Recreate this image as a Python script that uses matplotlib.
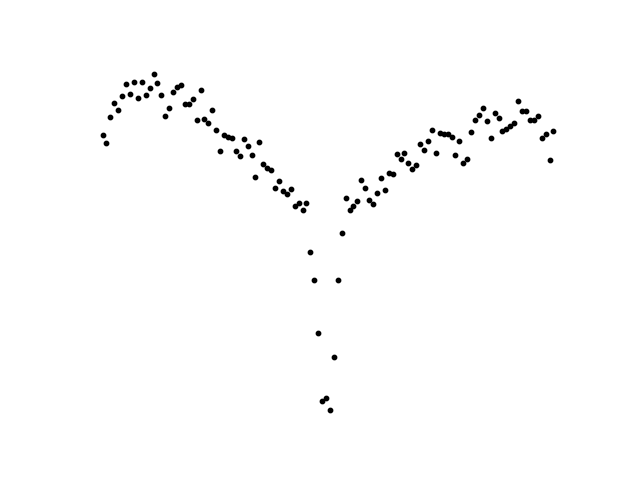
import matplotlib
matplotlib.use("Agg")
import matplotlib.pyplot as plt
import numpy as np

# signal level per sample (sample index on x)
signal = [
    344.7, 337.0, 362.7, 376.7, 369.7, 383.7, 395.7, 385.7, 397.7, 381.7,
    397.7, 384.7, 391.7, 405.7, 396.7, 384.7, 363.7, 371.7, 387.7, 392.7,
    394.7, 375.7, 375.7, 380.7, 359.7, 389.7, 360.7, 356.7, 369.7, 349.7,
    328.7, 345.3, 343.0, 341.7, 328.7, 323.7, 340.7, 333.7, 324.7, 302.7,
    337.7, 315.7, 311.7, 309.7, 291.7, 298.7, 288.7, 286.3, 290.7, 273.7,
    277.3, 270.0, 276.7, 227.7, 199.7, 146.7, 78.7, 81.7, 69.7, 122.7,
    199.7, 246.7, 281.7, 269.7, 273.7, 278.7, 299.7, 291.7, 279.7, 275.7,
    286.7, 301.7, 289.7, 306.7, 305.7, 325.7, 320.7, 326.7, 316.7, 310.7,
    314.7, 335.7, 329.7, 338.7, 349.7, 326.7, 346.7, 345.7, 345.7, 342.7,
    324.7, 338.7, 316.7, 320.7, 347.7, 359.7, 364.7, 371.7, 358.7, 341.7,
    366.7, 361.7, 348.7, 350.7, 353.7, 356.7, 378.7, 368.7, 368.7, 359.7,
    359.7, 363.7, 341.7, 345.7, 319.7, 348.7,
]
sample = np.arange(len(signal))

fig, ax = plt.subplots(figsize=(6.4, 4.8), dpi=100)
ax.scatter(sample, signal, s=10, color="black")
ax.axis("off")

fig.savefig("out.png")
